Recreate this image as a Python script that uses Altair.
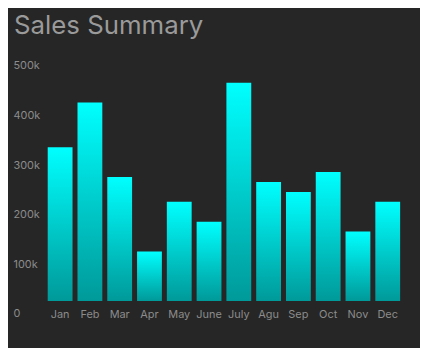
import altair as alt
import pandas as pd

months = ["Jan", "Feb", "Mar", "Apr", "May", "June", "July", "Agu", "Sep", "Oct", "Nov", "Dec"]
sales = [310000, 400000, 250000, 100000, 200000, 160000, 440000, 240000, 220000, 260000, 140000, 200000]
y_ticks = [0, 100000, 200000, 300000, 400000, 500000]

df = pd.DataFrame({"month": months, "sales": sales})

grad = alt.Gradient(
    gradient="linear",
    stops=[alt.GradientStop(color="#00ffff", offset=0),
           alt.GradientStop(color="#009999", offset=1)],
    x1=0, x2=0, y1=0, y2=1,
)

chart = alt.Chart(df).mark_bar(color=grad).encode(
    x=alt.X("month:N", sort=months, title=None,
            scale=alt.Scale(paddingInner=0.1667, paddingOuter=0.1667),
            axis=alt.Axis(labelAngle=0, ticks=False, tickSize=0, domain=False,
                          labelPadding=8, labelFont="Inter", labelFontSize=11,
                          labelColor="#8c8c8c", grid=False)),
    y=alt.Y("sales:Q", title=None,
            scale=alt.Scale(domain=[0, 500000], nice=False),
            axis=alt.Axis(values=y_ticks, ticks=False, tickSize=0, domain=False, grid=False,
                          labelAlign="left", labelPadding=30, labelOffset=13,
                          labelBaseline="middle", labelFont="Inter", labelFontSize=11,
                          labelColor="#8c8c8c", labelExpr="datum.value == 0 ? '0' : (datum.value / 1000) + 'k'")),
).properties(
    width=365,
    height=250,
    title=alt.TitleParams("Sales Summary", anchor="start", frame="group", dx=-29, dy=25,
                          font="Inter", fontSize=26, fontWeight="normal",
                          color="#9a9a9a", baseline="alphabetic", offset=18),
    autosize=alt.AutoSizeParams(type="none"),
    padding={"left": 35, "top": 44, "right": 15, "bottom": 46},
).configure(
    background="#262626",
).configure_view(
    strokeWidth=0,
)

chart.save("out.html", embed_options={"renderer": "svg", "actions": False})
